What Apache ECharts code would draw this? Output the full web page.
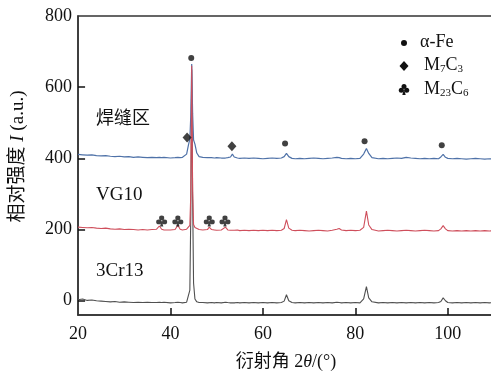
<!DOCTYPE html>
<html><head><meta charset="utf-8">
<script src="https://cdn.jsdelivr.net/npm/echarts@6/dist/echarts.min.js"></script>
<style>html,body{margin:0;padding:0;background:#fff}#c{width:491px;height:371px}</style>
</head><body><div id="c"></div>
<script>
// 2θ angles (deg), shared by all three patterns
const angles = [20,21,22,23,24,25,26,27,28,29,30,31,32,33,34,35,36,37,
  37.6,38.1,38.6,39,40,41,41.6,42.1,42.6,
  43,43.5,43.9,44.2,44.4,44.6,44.8,45.0,45.3,45.7,46.2,
  47,48,48.4,48.9,49.5,50,51,51.4,51.9,52.4,
  53,53.4,53.8,54.5,55,56,57,58,59,60,61,62,63,64,
  64.6,65.1,65.6,66.3,67,68,69,70,71,72,73,74,75,76,76.5,77,78,79,80,81,
  81.8,82.4,82.9,83.6,84,85,86,87,88,89,90,91,92,93,94,95,96,97,98,
  98.5,99.0,99.5,100,101,102,103,104,105,106,107,108,109,110];
// Weld zone (焊缝区)
const weld = [411,410,409,410,408,407,408,406,405,406,404,405,403,404,403,402,403,402,
  403,402,403,402,401,402,403,402,403,
  405,412,438,455,520,665,525,452,440,415,405,
  403,402,401,402,401,402,401,400,401,402,
  404,412,404,401,400,401,400,401,400,399,400,401,400,401,
  405,414,405,400,399,400,399,400,401,400,399,400,401,403,402,400,399,400,399,400,
  412,428,414,402,400,399,400,399,400,401,400,403,401,400,399,400,399,400,399,
  404,411,403,400,399,400,399,398,399,400,399,398,399,398];
// VG10
const vg10 = [207,206,205,206,204,203,204,202,201,202,200,201,200,199,200,199,200,201,
  210,201,199,200,199,200,212,201,199,
  199,201,205,212,300,660,310,214,206,202,200,
  199,200,207,200,199,198,199,200,207,199,
  198,199,198,199,197,198,197,198,197,198,197,198,197,198,
  203,228,204,198,197,198,197,196,197,198,197,196,198,201,203,199,197,198,197,198,
  206,252,213,200,197,196,197,198,197,196,197,198,197,196,197,198,197,196,197,
  202,211,202,197,196,197,196,197,196,197,196,197,196,197];
// 3Cr13
const cr13 = [3,5,1,2,0,-1,-2,-3,-2,-4,-3,-4,-5,-4,-5,-4,-5,-5,
  -4,-5,-4,-5,-6,-5,-4,-5,-6,
  -5,-4,-2,30,240,650,290,50,5,-3,-5,
  -5,-6,-4,-5,-6,-5,-6,-5,-4,-5,
  -6,-5,-6,-5,-6,-5,-6,-5,-6,-5,-6,-5,-6,-5,
  -1,17,0,-5,-6,-5,-6,-5,-6,-5,-6,-5,-6,-4,-5,-6,-5,-6,-5,-6,
  5,40,8,-3,-5,-6,-5,-6,-5,-6,-5,-6,-5,-6,-5,-6,-5,-6,-5,
  -2,8,0,-5,-6,-5,-6,-5,-6,-5,-6,-5,-6,-5];
// phase marks: [2θ, intensity]
const alphaFeMarks = [[44.5,682],[64.8,442],[82.0,448],[98.7,437]];
const m7c3Marks = [[43.6,459],[53.3,434]];
const m23c6Marks = [[38.1,224],[41.6,224],[48.4,224],[51.8,224]];
const xTicks = [20,40,60,80,100];
const yTicks = [0,200,400,600,800];

const clubPath = 'path://M50,5 A20,20 0 1,1 49.99,5 Z M27,38 A20,20 0 1,1 26.99,38 Z M73,38 A20,20 0 1,1 72.99,38 Z M50,45 L63,96 L37,96 Z';
const serif = '"Liberation Serif","Times New Roman",serif';
const cjk = '"Liberation Serif","Noto Sans CJK SC",serif';
const X_MIN = 20, X_MAX = 110, Y_MIN = -40, Y_MAX = 800;
// inward tick length expressed as a fraction of each axis span
const TICK_FRAC_X = 0.017, TICK_FRAC_Y = 0.023;

const toPairs = ys => angles.map((a,i)=>[a, ys[i]]);

// tick segments built from the tick value arrays, drawn in data space
const tickSegs = [];
xTicks.filter(v=>v>X_MIN).forEach(v=>{
  tickSegs.push([{coord:[v, Y_MIN]}, {coord:[v, Y_MIN + (Y_MAX-Y_MIN)*TICK_FRAC_Y]}]);
});
yTicks.filter(v=>v<Y_MAX).forEach(v=>{
  tickSegs.push([{coord:[X_MIN, v]}, {coord:[X_MIN + (X_MAX-X_MIN)*TICK_FRAC_X, v]}]);
});

const chart = echarts.init(document.getElementById('c'));
chart.setOption({
  animation:false,
  grid:{left:78, right:-3, top:16, bottom:56, show:true, borderColor:'#333', borderWidth:1.5,
    containLabel:false, outerBoundsMode:'none'},
  xAxis:{type:'value', min:X_MIN, max:X_MAX, interval:20,
    axisLine:{onZero:false, lineStyle:{color:'#333', width:1.5}},
    axisTick:{show:false},
    splitLine:{show:false},
    axisLabel:{color:'#111', fontFamily:serif, fontSize:18, margin:10, showMaxLabel:false},
    name:'衍射角 2{i|θ}/(°)', nameLocation:'middle', nameGap:38,
    nameTextStyle:{color:'#111', fontFamily:cjk, fontSize:18,
      rich:{i:{fontStyle:'italic', fontFamily:serif, fontSize:18, color:'#111'}}}
  },
  yAxis:{type:'value', min:Y_MIN, max:Y_MAX,
    axisLine:{show:true, onZero:false, lineStyle:{color:'#333', width:1.5}},
    axisTick:{show:false},
    splitLine:{show:false},
    axisLabel:{color:'#111', fontFamily:serif, fontSize:18, margin:6, customValues:yTicks},
    name:'相对强度 {i|I} (a.u.)', nameLocation:'middle', nameGap:50, nameRotate:90,
    nameTextStyle:{color:'#111', fontFamily:cjk, fontSize:19, padding:[0,0,0,18],
      rich:{i:{fontStyle:'italic', fontFamily:serif, fontSize:19, color:'#111'}}}
  },
  series:[
    {type:'line', data:toPairs(cr13), symbol:'none', lineStyle:{color:'#505050', width:1.1}, z:2,
      markLine:{silent:true, symbol:['none','none'], label:{show:false},
        lineStyle:{color:'#111', width:1.5, type:'solid'}, data:tickSegs}},
    {type:'line', data:toPairs(weld), symbol:'none', lineStyle:{color:'#4f72a8', width:1.2}, z:3},
    {type:'line', data:toPairs(vg10), symbol:'none', lineStyle:{color:'#cf4f5c', width:1.1}, z:4},
    {type:'scatter', data:alphaFeMarks, symbol:'circle', symbolSize:6, itemStyle:{color:'#111'}, z:5},
    {type:'scatter', data:m7c3Marks, symbol:'diamond', symbolSize:[9,10], itemStyle:{color:'#111'}, z:5},
    {type:'scatter', data:m23c6Marks, symbol:clubPath, symbolSize:[11,11], itemStyle:{color:'#111'}, z:5}
  ],
  graphic:[
    {type:'text', x:96, y:108, style:{text:'焊缝区', font:'18px "Noto Sans CJK SC"', fill:'#111'}},
    {type:'text', x:96, y:186, style:{text:'VG10', font:'19px "Liberation Serif"', fill:'#111'}},
    {type:'text', x:96, y:262, style:{text:'3Cr13', font:'19px "Liberation Serif"', fill:'#111'}},
    {type:'circle', shape:{cx:404, cy:43, r:3}, style:{fill:'#111'}},
    {type:'polygon', shape:{points:[[404,61],[408.5,66],[404,71],[399.5,66]]}, style:{fill:'#111'}},
    {type:'circle', shape:{cx:404, cy:86.4, r:2.5}, style:{fill:'#111'}},
    {type:'circle', shape:{cx:401.3, cy:90.2, r:2.5}, style:{fill:'#111'}},
    {type:'circle', shape:{cx:406.7, cy:90.2, r:2.5}, style:{fill:'#111'}},
    {type:'polygon', shape:{points:[[404,89],[405.7,95],[402.3,95]]}, style:{fill:'#111'}},
    {type:'text', x:420, y:33, style:{text:'α-Fe', font:'18px "Liberation Serif"', fill:'#111'}},
    {type:'text', x:424, y:56, style:{text:'M{s|7}C{s|3}', font:'18px "Liberation Serif"', fill:'#111',
      rich:{s:{fontSize:11, fontFamily:'Liberation Serif', verticalAlign:'bottom', padding:[8,0,0,0], fill:'#111'}}}},
    {type:'text', x:424, y:80, style:{text:'M{s|23}C{s|6}', font:'18px "Liberation Serif"', fill:'#111',
      rich:{s:{fontSize:11, fontFamily:'Liberation Serif', verticalAlign:'bottom', padding:[8,0,0,0], fill:'#111'}}}}
  ]
});
</script></body></html>
